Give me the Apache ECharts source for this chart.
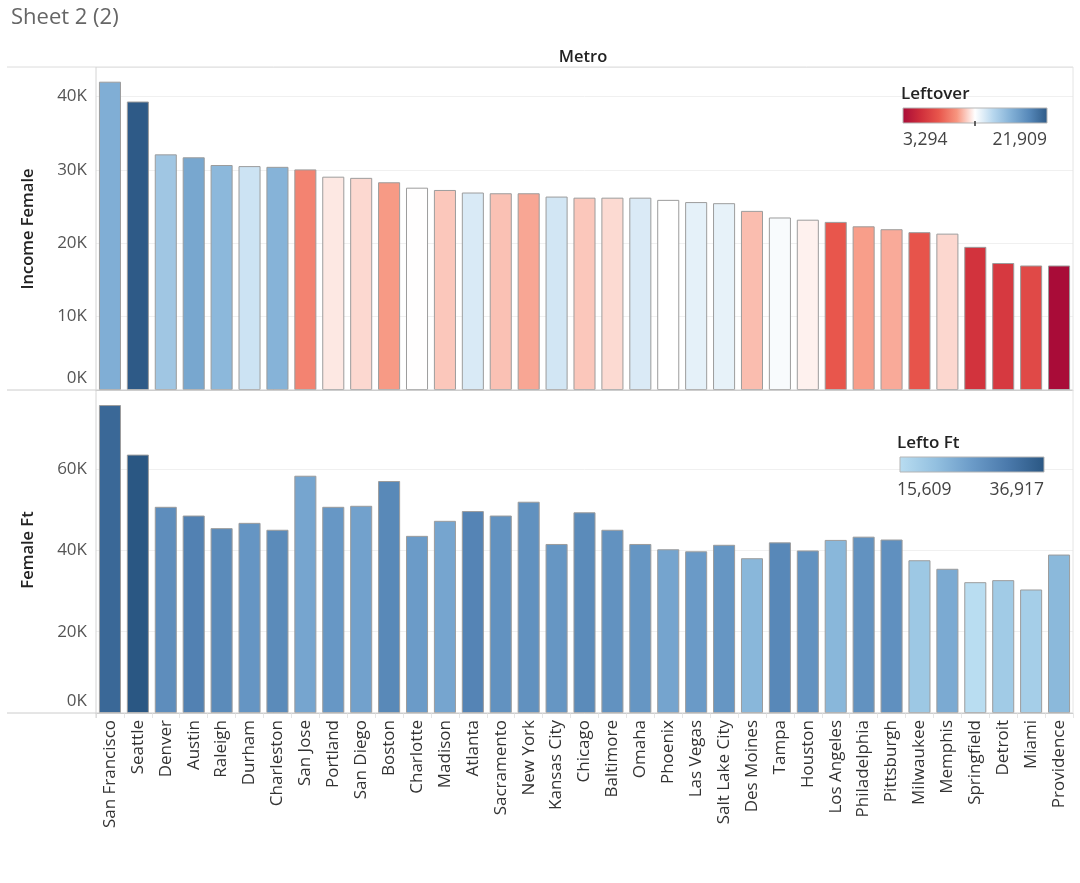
<!DOCTYPE html>
<html>
<head>
<meta charset="utf-8">
<script src="https://cdn.jsdelivr.net/npm/echarts@6/dist/echarts.min.js"></script>
<style>
html,body{margin:0;padding:0;background:#fff;}
#chart{width:1080px;height:883px;}
</style>
</head>
<body>
<div id="chart"></div>
<script>
const categories = ["San Francisco","Seattle","Denver","Austin","Raleigh","Durham","Charleston","San Jose","Portland","San Diego","Boston","Charlotte","Madison","Atlanta","Sacramento","New York","Kansas City","Chicago","Baltimore","Omaha","Phoenix","Las Vegas","Salt Lake City","Des Moines","Tampa","Houston","Los Angeles","Philadelphia","Pittsburgh","Milwaukee","Memphis","Springfield","Detroit","Miami","Providence"];

const incomeFemale = [42000,39300,32100,31700,30650,30500,30400,30050,29060,28900,28300,27560,27250,26900,26800,26800,26350,26200,26200,26200,25900,25600,25450,24400,23500,23200,22900,22300,21900,21500,21300,19500,17300,16960,16960];

const leftover = [17350,21909,15950,17800,16800,14250,17070,9620,12100,11740,10380,12580,11370,13830,11240,10650,14050,11370,11780,13810,12600,13440,13370,11150,12830,12300,7950,10480,10740,7850,11730,5900,6270,7200,3294];

const femaleFt = [75800,63600,50750,48600,45500,46800,45100,58400,50750,51000,57100,43600,47300,49700,48600,52000,41600,49400,45100,41600,40300,39800,41400,38100,42000,40000,42600,43400,42700,37600,35500,32200,32700,30400,39000];

const leftoFt = [34250,36917,28400,30310,28820,27220,28820,24770,26900,25330,29160,26260,24770,29820,27710,27880,27120,28820,27650,27120,24980,26470,27120,22210,29250,27650,22210,27650,27970,19530,24130,15609,18970,18380,22000];

const leftoverRange = [3294, 21909];
const leftoFtRange = [15609, 36917];
const leftoverTicks = ["3,294", "21,909"];
const leftoFtTicks = ["15,609", "36,917"];

const divColors = ['#a90c38','#cf2e3b','#e8564c','#f7957f','#ffffff','#b7d7ee','#82b0d6','#5688b9','#2e5a87'];
const blueColors = ['#b9ddf1','#93c0e0','#6b9bc8','#4a79ab','#2a5783'];

function stops(cols){ return cols.map((c,i)=>({offset:i/(cols.length-1), color:c})); }

const FONT = '"Open Sans", "Noto Sans", sans-serif';
const chart = echarts.init(document.getElementById('chart'));

const lineColor = '#d4d4d4';
function hline(x1,y,x2,c){ return {type:'line', shape:{x1:x1,y1:y,x2:x2,y2:y}, style:{stroke:c||lineColor, lineWidth:1}, z:10}; }
function vline(x,y1,y2,c){ return {type:'line', shape:{x1:x,y1:y1,x2:x,y2:y2}, style:{stroke:c||lineColor, lineWidth:1}, z:10}; }

function kFmt(v){ return v === 0 ? '{z|0K}' : (v/1000)+'K'; }
const yLabel = {formatter:kFmt, fontSize:17, color:'#555', fontFamily:FONT, margin:9, showMaxLabel:false,
  rich:{z:{fontSize:17, color:'#555', fontFamily:FONT, padding:[0,0,24,0]}}};

const option = {
  backgroundColor: '#ffffff',
  animation: false,
  textStyle: {fontFamily: FONT},
  grid: [
    {left: 96, right: 7, top: 67, height: 323},
    {left: 96, right: 7, top: 390, height: 323}
  ],
  xAxis: [
    {type:'category', gridIndex:0, data:categories,
     axisLabel:{show:false}, axisTick:{show:false},
     axisLine:{lineStyle:{color:'#cfcfcf'}}},
    {type:'category', gridIndex:1, data:categories,
     axisLabel:{rotate:90, interval:0, fontSize:17, color:'#333', fontFamily:FONT, margin:7},
     axisTick:{show:true, length:5, lineStyle:{color:'#e6e6e6'}},
     axisLine:{lineStyle:{color:'#cfcfcf'}}}
  ],
  yAxis: [
    {type:'value', gridIndex:0, min:0, max:44000, interval:10000,
     axisLabel:yLabel,
     axisLine:{show:false}, axisTick:{show:false},
     splitLine:{lineStyle:{color:'#f0f0f0'}}},
    {type:'value', gridIndex:1, min:0, max:79500, interval:20000,
     axisLabel:yLabel,
     axisLine:{show:false}, axisTick:{show:false},
     splitLine:{lineStyle:{color:'#f0f0f0'}}}
  ],
  visualMap: [
    {type:'continuous', show:false, seriesIndex:0, dimension:2, min:leftoverRange[0], max:leftoverRange[1], inRange:{color:divColors}},
    {type:'continuous', show:false, seriesIndex:1, dimension:2, min:leftoFtRange[0], max:leftoFtRange[1], inRange:{color:blueColors}}
  ],
  series: [
    {type:'bar', xAxisIndex:0, yAxisIndex:0, barCategoryGap:'21%',
     encode:{x:0, y:1},
     data: categories.map((c,i)=>[c, incomeFemale[i], leftover[i]]),
     itemStyle:{borderColor:'#9c9c9c', borderWidth:1}},
    {type:'bar', xAxisIndex:1, yAxisIndex:1, barCategoryGap:'21%',
     encode:{x:0, y:1},
     data: categories.map((c,i)=>[c, femaleFt[i], leftoFt[i]]),
     itemStyle:{borderColor:'#9c9c9c', borderWidth:1}}
  ],
  graphic: [
    {type:'text', left:11, top:7, style:{text:'Sheet 2 (2)', fontSize:22, fill:'#666', fontFamily:FONT}},
    {type:'text', x:583, y:57, style:{text:'Metro', fontSize:16.5, fontWeight:600, fill:'#222', fontFamily:FONT, align:'center', verticalAlign:'middle'}},
    {type:'text', x:28, y:229, rotation:Math.PI/2, style:{text:'Income Female', fontSize:16.5, fontWeight:600, fill:'#222', fontFamily:FONT, align:'center', verticalAlign:'middle'}},
    {type:'text', x:28, y:550, rotation:Math.PI/2, style:{text:'Female Ft', fontSize:16.5, fontWeight:600, fill:'#222', fontFamily:FONT, align:'center', verticalAlign:'middle'}},
    hline(7,67,1073,'#dcdcdc'),
    hline(7,390,1073,'#cccccc'),
    hline(7,713,1073,'#cccccc'),
    vline(96,67,718,'#d4d4d4'),
    vline(1073,67,713,'#e4e4e4'),
    // Leftover legend
    {type:'text', x:901, y:94, style:{text:'Leftover', fontSize:17, fontWeight:600, fill:'#222', fontFamily:FONT, verticalAlign:'middle'}, z:20},
    {type:'rect', shape:{x:903, y:108, width:144, height:15},
     style:{fill:{type:'linear', x:0, y:0, x2:1, y2:0, colorStops:stops(divColors)}, stroke:'#b5b5b5', lineWidth:1}, z:20},
    {type:'line', shape:{x1:975, y1:121, x2:975, y2:126}, style:{stroke:'#333', lineWidth:1.5}, z:21},
    {type:'text', x:903, y:140, style:{text:leftoverTicks[0], fontSize:17.5, fill:'#444', fontFamily:FONT, verticalAlign:'middle'}, z:20},
    {type:'text', x:1047, y:140, style:{text:leftoverTicks[1], fontSize:17.5, fill:'#444', fontFamily:FONT, align:'right', verticalAlign:'middle'}, z:20},
    // Lefto Ft legend
    {type:'text', x:897, y:443, style:{text:'Lefto Ft', fontSize:17, fontWeight:600, fill:'#222', fontFamily:FONT, verticalAlign:'middle'}, z:20},
    {type:'rect', shape:{x:900, y:457, width:144, height:15},
     style:{fill:{type:'linear', x:0, y:0, x2:1, y2:0, colorStops:stops(blueColors)}, stroke:'#b5b5b5', lineWidth:1}, z:20},
    {type:'text', x:897, y:490, style:{text:leftoFtTicks[0], fontSize:17.5, fill:'#444', fontFamily:FONT, verticalAlign:'middle'}, z:20},
    {type:'text', x:1044, y:490, style:{text:leftoFtTicks[1], fontSize:17.5, fill:'#444', fontFamily:FONT, align:'right', verticalAlign:'middle'}, z:20}
  ]
};
chart.setOption(option);
</script>
</body>
</html>
